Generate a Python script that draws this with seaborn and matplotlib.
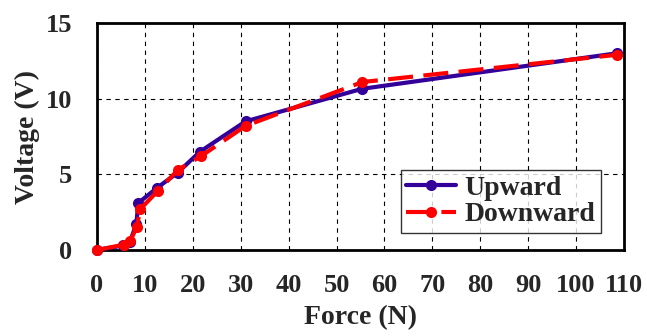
import matplotlib
matplotlib.use("Agg")
import matplotlib.pyplot as plt
import pandas as pd
import seaborn as sns

# values
up_force = [0, 5.5, 6.8, 8.2, 8.6, 12.5, 16.8, 21.5, 31, 55.3, 108.5]
up_volt = [0, 0.3, 0.5, 1.7, 3.1, 4.1, 5.1, 6.5, 8.5, 10.65, 13.0]
down_force = [0, 5.6, 6.9, 8.3, 9.0, 12.7, 16.9, 21.7, 31, 55.4, 108.5]
down_volt = [0, 0.35, 0.6, 1.5, 2.7, 3.9, 5.3, 6.2, 8.2, 11.1, 12.9]

x_ticks = [0, 10, 20, 30, 40, 50, 60, 70, 80, 90, 100, 110]
y_ticks = [0, 5, 10, 15]

up = pd.DataFrame({"Force": up_force, "Voltage": up_volt})
down = pd.DataFrame({"Force": down_force, "Voltage": down_volt})

sns.set_style("white")
plt.rcParams['font.family'] = ['Liberation Serif', 'DejaVu Serif']
plt.rcParams['font.weight'] = 'bold'

fig = plt.figure(figsize=(6.47, 3.36), dpi=100)
ax = fig.add_axes([0.150, 0.256, 0.8145, 0.6755])

ax.grid(True, color='black', linestyle=(0, (4, 4)), linewidth=0.8, zorder=0)

sns.lineplot(data=up, x="Force", y="Voltage", ax=ax, color='#330099', linewidth=3,
             marker='o', markersize=8, markeredgewidth=0, label='Upward', zorder=3,
             sort=False, clip_on=False)
sns.lineplot(data=down, x="Force", y="Voltage", ax=ax, color='#ff0000', linewidth=3,
             linestyle=(0, (6, 2.5)), marker='o', markersize=8, markeredgewidth=0,
             label='Downward', zorder=4, sort=False, clip_on=False)

ax.set_xlim(0, 110)
ax.set_ylim(0, 15)
ax.set_xticks(x_ticks)
ax.set_yticks(y_ticks)
ax.tick_params(length=0, labelsize=19)
ax.tick_params(axis='x', pad=17)
ax.tick_params(axis='y', pad=18)
for lab in ax.get_xticklabels() + ax.get_yticklabels():
    lab.set_fontweight('bold')

ax.set_xlabel("Force (N)", fontsize=20, fontweight='bold', labelpad=6)
ax.set_ylabel("Voltage (V)", fontsize=20, fontweight='bold', labelpad=4)

for sp in ax.spines.values():
    sp.set_color('black')
    sp.set_linewidth(2)
    sp.set_visible(True)

leg = ax.legend(loc='lower right', bbox_to_anchor=(0.956, 0.075), borderaxespad=0,
                frameon=True, fancybox=False, handlelength=1.8, handletextpad=0.3,
                borderpad=0.2, labelspacing=0.05, prop={'weight': 'bold', 'size': 20})
leg.get_frame().set_edgecolor('black')
leg.get_frame().set_linewidth(1)

fig.savefig("out.png", dpi=100)
